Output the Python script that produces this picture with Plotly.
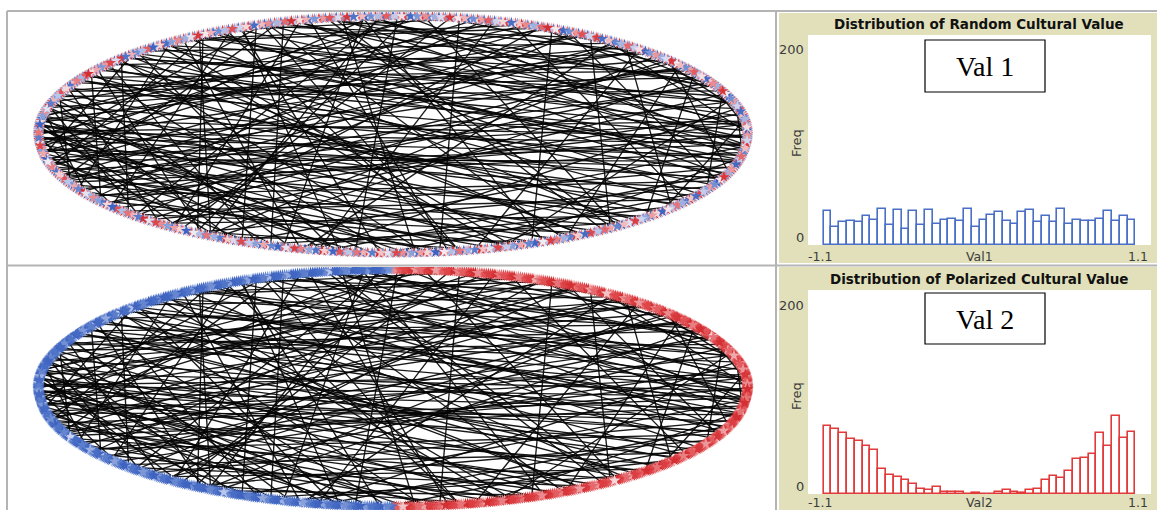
import numpy as np
import plotly.graph_objects as go

# ---------------- data ----------------
VAL1_COUNTS = [32, 17, 22, 23, 22, 28, 24, 34, 19, 33, 15, 32, 19, 33, 20, 24, 25, 23, 34, 17,
               24, 29, 31, 23, 20, 31, 33, 22, 28, 22, 34, 20, 24, 23, 23, 25, 32, 23, 28, 24]
VAL2_COUNTS = [67, 64, 60, 54, 52, 47, 43, 25, 19, 17, 14, 10, 5, 4, 7, 2, 2, 2, 0, 1,
               0, 0, 2, 4, 2, 1, 4, 5, 14, 18, 16, 23, 34, 35, 39, 60, 47, 76, 55, 61]
BIN_RANGE = [-1.0, 1.0]
X_TICKS = ["-1.1", "1.1"]
Y_TICKS = ["0", "200"]
TITLES = ["Distribution of Random Cultural Value", "Distribution of Polarized Cultural Value"]
X_TITLES = ["Val1", "Val2"]
BOX_LABELS = ["Val 1", "Val 2"]

# links: positions of the two linked nodes around the circle (0..999, clockwise from top)
EDGE_A = [2, 6, 10, 14, 22, 26, 30, 34, 42, 46, 50, 54, 62, 66, 70, 74, 82, 86, 90, 94,
          102, 106, 110, 114, 122, 126, 130, 134, 142, 146, 150, 154, 162, 166, 170, 174, 182, 186, 190, 194,
          202, 206, 210, 214, 222, 226, 230, 234, 242, 246, 250, 254, 262, 266, 270, 274, 282, 286, 290, 294,
          302, 306, 310, 314, 322, 326, 330, 334, 342, 346, 350, 354, 362, 366, 370, 374, 382, 386, 390, 394,
          402, 406, 410, 414, 422, 426, 430, 434, 442, 446, 450, 454, 462, 466, 470, 474, 482, 486, 490, 494,
          502, 506, 510, 514, 522, 526, 530, 534, 542, 546, 550, 554, 562, 566, 570, 574, 582, 586, 590, 594,
          602, 606, 610, 614, 622, 626, 630, 634, 642, 646, 650, 654, 662, 666, 670, 674, 682, 686, 690, 694,
          702, 706, 710, 714, 722, 726, 730, 734, 742, 746, 750, 754, 762, 766, 770, 774, 782, 786, 790, 794,
          802, 806, 810, 814, 822, 826, 830, 834, 842, 846, 850, 854, 862, 866, 870, 874, 882, 886, 890, 894,
          902, 906, 910, 914, 922, 926, 930, 934, 942, 946, 950, 954, 962, 966, 970, 974, 982, 986, 990, 994]
EDGE_B = [517, 268, 733, 391, 154, 602, 479, 921, 660, 123, 775, 345, 899, 211, 707, 436,
          315, 629, 189, 395, 248, 541, 687, 356, 463, 770, 219, 588, 302, 651, 419, 726,
          374, 583, 809, 241, 690, 968, 327, 612, 450, 862, 277, 536, 643, 904, 363, 718,
          989, 297, 674, 832, 753, 570, 941, 684, 459, 716, 887, 622, 531, 956, 745, 664,
          595, 730, 503, 917, 638, 869, 761, 548, 706, 827, 615, 742, 561, 775, 680, 973,
          729, 633, 858, 764, 697, 801, 583, 737, 656, 769, 885, 702, 599, 748, 940, 671,
          725, 860, 977, 758, 838, 929, 787, 715, 758, 872, 799, 46, 899, 818, 987, 773,
          852, 721, 937, 796, 761, 908, 843, 7, 766, 958, 69, 815, 142, 789, 996, 861,
          747, 925, 177, 838, 236, 780, 112, 892, 805, 205, 948, 87, 263, 913, 155, 991,
          869, 38, 295, 941, 126, 278, 62, 232, 311, 93, 254, 16, 337, 141, 285, 74,
          190, 352, 118, 266, 215, 303, 160, 379, 245, 320, 131, 272, 198, 410, 239, 110,
          284, 166, 445, 72, 386, 208, 593, 310, 470, 255, 524, 99, 420, 178, 556, 237,
          475, 128, 399, 281, 186, 430, 264, 587]

# ---------------- geometry / style ----------------
W, H = 1157, 510
CX, A = 393.0, 354.5          # ellipse centre x and half width (px)
CY_TOP, CY_BOT, B = 134.5, 388.0, 118.5
NODE_SCALE = [[0.0, "#3c61bf"], [0.1, "#4a6fc6"], [0.25, "#8ea5dc"], [0.4, "#c8d0ee"], [0.5, "#f4eff3"],
              [0.6, "#f3c8ca"], [0.75, "#ea9195"], [0.9, "#e04a4e"], [1.0, "#d22b2e"]]
BLUE, RED = "#4a6fc6", "#e23a3a"
BEIGE = "#e1e0ba"
GRAY = "#b4b4b4"


def dom_x(a, b):
    return [a / W, b / W]


def dom_y(top, bottom):
    return [1 - bottom / H, 1 - top / H]


n_bins = len(VAL1_COUNTS)
width = (BIN_RANGE[1] - BIN_RANGE[0]) / n_bins
centers = np.linspace(BIN_RANGE[0] + width / 2, BIN_RANGE[1] - width / 2, n_bins)

fig = go.Figure()

# ---------- links (same network in both panels) ----------
ea = 2 * np.pi * np.array(EDGE_A) / 1000.0
eb = 2 * np.pi * np.array(EDGE_B) / 1000.0
lx, ly = [], []
for a, b in zip(ea, eb):
    lx += [np.sin(a), np.sin(b), None]
    ly += [np.cos(a), np.cos(b), None]
for xa, ya in (("x", "y"), ("x2", "y2")):
    fig.add_trace(go.Scatter(x=lx, y=ly, mode="lines", xaxis=xa, yaxis=ya,
                             line=dict(color="rgba(5,5,5,0.92)", width=1.35),
                             hoverinfo="skip", showlegend=False))

# ---------- nodes ----------
vals1 = np.repeat(centers, VAL1_COUNTS)
vals2 = np.repeat(centers, VAL2_COUNTS)

# random cultural value: nodes placed in arbitrary (non-sorted) order
n1 = len(vals1)
phi1 = 2 * np.pi * np.arange(n1) / n1
perm = (np.arange(n1) * 389) % n1
node_vals1 = vals1[perm]
draw1 = (np.arange(n1) * 211) % n1
fig.add_trace(go.Scatter(x=np.sin(phi1)[draw1], y=np.cos(phi1)[draw1], mode="markers",
                         xaxis="x", yaxis="y", hoverinfo="skip", showlegend=False,
                         marker=dict(symbol="star", size=8.5, color=node_vals1[draw1],
                                     colorscale=NODE_SCALE, cmin=-1, cmax=1, line=dict(width=0))))

# polarized cultural value: negative values on the left half, positive on the right half
n2 = len(vals2)
phi2 = 2 * np.pi * np.arange(n2) / n2
mix = (np.arange(n2) * 389) % n2                    # arbitrary order inside each half
left_first = np.argsort(np.where(np.sin(phi2[mix]) < 0, 0, 1), kind="stable")
slot_order = mix[left_first]
node_vals2 = np.empty(n2)
node_vals2[slot_order] = np.sort(vals2)
draw2 = (np.arange(n2) * 211) % n2
fig.add_trace(go.Scatter(x=np.sin(phi2)[draw2], y=np.cos(phi2)[draw2], mode="markers",
                         xaxis="x2", yaxis="y2", hoverinfo="skip", showlegend=False,
                         marker=dict(symbol="star", size=9, color=node_vals2[draw2],
                                     colorscale=NODE_SCALE, cmin=-1, cmax=1, line=dict(width=0))))

# ---------- histograms ----------
for counts, col, xa, ya in ((VAL1_COUNTS, BLUE, "x3", "y3"), (VAL2_COUNTS, RED, "x4", "y4")):
    fig.add_trace(go.Bar(x=centers, y=counts, width=width, xaxis=xa, yaxis=ya,
                         marker=dict(color="rgba(255,255,255,0)", line=dict(color=col, width=1.6)),
                         hoverinfo="skip", showlegend=False))

hidden = dict(visible=False, showgrid=False, zeroline=False, fixedrange=True)
fig.update_layout(
    width=W, height=H, margin=dict(l=0, r=0, t=0, b=0),
    paper_bgcolor="white", plot_bgcolor="rgba(0,0,0,0)",
    bargap=0,
    xaxis=dict(domain=dom_x(9, 775), range=[(9 - CX) / A, (775 - CX) / A], **hidden),
    yaxis=dict(domain=dom_y(12, 264), range=[(CY_TOP - 264) / B, (CY_TOP - 12) / B], **hidden),
    xaxis2=dict(domain=dom_x(9, 775), range=[(9 - CX) / A, (775 - CX) / A], **hidden),
    yaxis2=dict(domain=dom_y(267, 510), range=[(CY_BOT - 510) / B, (CY_BOT - 267) / B], **hidden),
    xaxis3=dict(domain=dom_x(808, 1151), range=[-1.1, 1.1], **hidden),
    yaxis3=dict(domain=dom_y(35, 245), range=[0, 200], **hidden),
    xaxis4=dict(domain=dom_x(808, 1151), range=[-1.1, 1.1], **hidden),
    yaxis4=dict(domain=dom_y(290, 494), range=[0, 200], **hidden),
)

shapes = []


def prect(x0, y0, x1, y1, fill, line=None, layer="below", lw=0):
    shapes.append(dict(type="rect", xref="paper", yref="paper", x0=x0 / W, x1=x1 / W,
                       y0=1 - y1 / H, y1=1 - y0 / H, fillcolor=fill, layer=layer,
                       line=dict(color=line or fill, width=lw)))


def pline(x0, y0, x1, y1, color=GRAY, w=2):
    shapes.append(dict(type="line", xref="paper", yref="paper", x0=x0 / W, x1=x1 / W,
                       y0=1 - y0 / H, y1=1 - y1 / H, line=dict(color=color, width=w), layer="below"))


# beige plot widgets and their white plotting areas
prect(779, 13, 1157, 263, BEIGE)
prect(779, 267, 1157, 512, BEIGE)
prect(808, 35, 1151, 245, "white")
prect(808, 290, 1151, 494, "white")
# grey frame lines
pline(7, 11, 1157, 11)
pline(7, 265.5, 1157, 265.5)
pline(7, 11, 7, 512)
pline(776, 10, 776, 512)
# label boxes
prect(925, 40, 1045, 92, "white", line="black", layer="above", lw=1.2)
prect(925, 293, 1045, 344, "white", line="black", layer="above", lw=1.2)
fig.update_layout(shapes=shapes)

ann = []


def txt(x, y, s, size=13, color="#3c3c3c", family="DejaVu Sans", xanchor="center", angle=0, bold=False):
    ann.append(dict(x=x / W, y=1 - y / H, xref="paper", yref="paper", text=f"<b>{s}</b>" if bold else s,
                    showarrow=False, xanchor=xanchor, yanchor="middle", textangle=angle,
                    font=dict(size=size, color=color, family=family)))


for i, off in enumerate((0, 255)):
    xlab_y = 256 if i == 0 else 502
    txt(979, 24 + off, TITLES[i], size=13.5, color="#111111", bold=True, family="DejaVu Sans")
    txt(806, 50 + off, Y_TICKS[1], xanchor="right")
    txt(806, 237 + (0 if i == 0 else 249), Y_TICKS[0], xanchor="right")
    txt(796, 143 + (0 if i == 0 else 253), "Freq", angle=-90)
    txt(806, xlab_y, X_TICKS[0], xanchor="left", size=12.5)
    txt(979, xlab_y, X_TITLES[i], size=12.5)
    txt(1150, xlab_y, X_TICKS[1], xanchor="right", size=12.5)
    txt(985, 67 + (0 if i == 0 else 252), BOX_LABELS[i], size=28, color="black", family="Liberation Serif")

fig.update_layout(annotations=ann)
fig.write_html("out.html")
